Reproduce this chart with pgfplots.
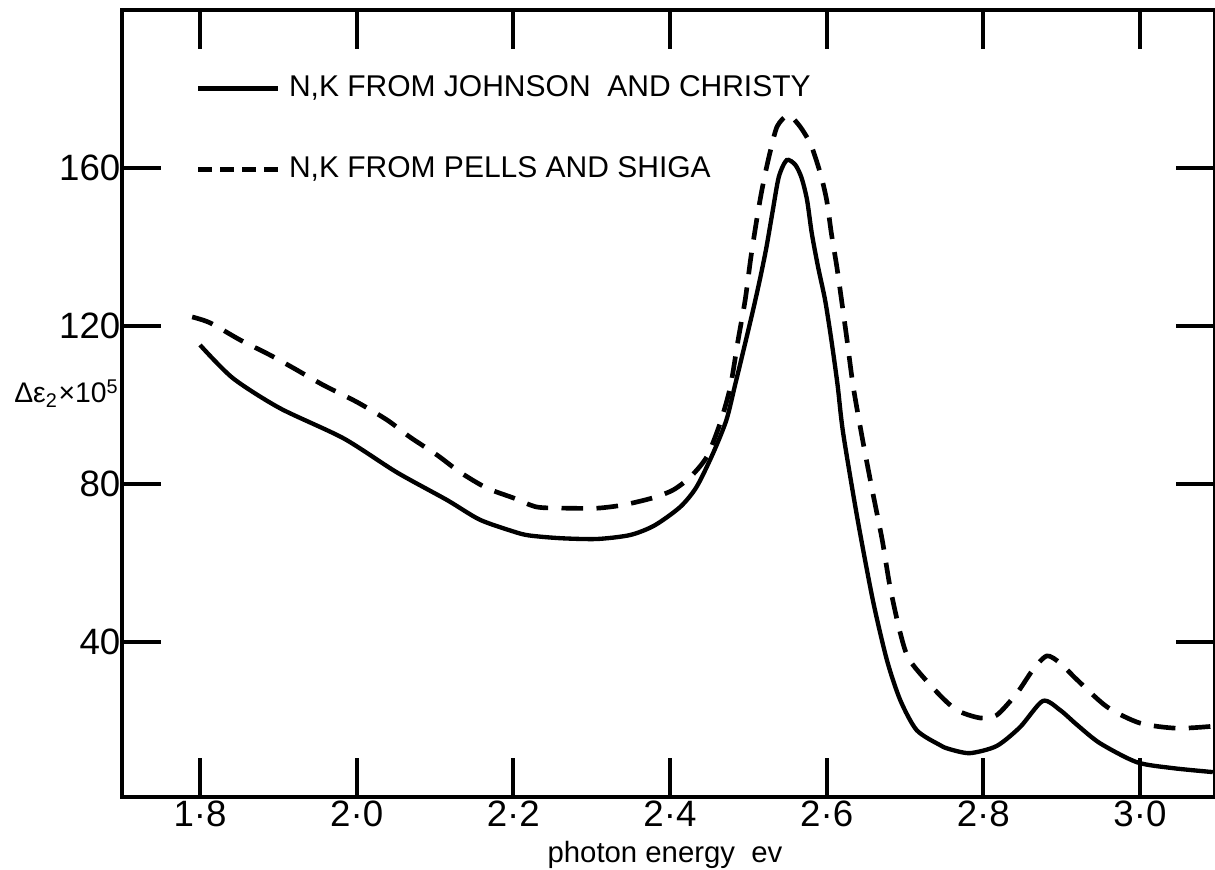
\documentclass[border=0pt]{standalone}
\usepackage{fontspec}
\setmainfont{Liberation Sans}
\usepackage{pgfplots}
\pgfplotsset{compat=1.18}
\pgfplotsset{dashlegend/.style={legend image code/.code={\draw[##1,dash pattern=on 4.3pt off 2.3pt] (0pt,0pt) -- (24.6pt,0pt);}}}
\begin{document}
\begin{tikzpicture}
\useasboundingbox (-36.6pt,-21.9pt) rectangle (327.9pt,239.1pt);
\begin{axis}[
  at={(0pt,0pt)}, anchor=south west,
  scale only axis, width=327.9pt, height=236.1pt,
  xmin=1.7004, xmax=3.0958, ymin=0.8, ymax=200,
  axis line style={line width=1.2pt},
  tick align=inside,
  major tick length=11.7pt,
  every tick/.style={line width=1.2pt, black},
  xtick={1.8,2.0,2.2,2.4,2.6,2.8,3.0},
  xticklabels={1·8,2·0,2·2,2·4,2·6,2·8,3·0},
  ytick={40,80,120,160},
  yticklabels={40,80,120,160},
  ticklabel style={font=\fontsize{11}{13}\selectfont},
  xticklabel style={inner sep=1pt},
  yticklabel style={inner sep=0.3pt},
  xlabel={photon energy\ \ ev},
  xlabel style={at={(axis description cs:0.4968,0)}, anchor=north, yshift=-13pt, inner sep=0pt, font=\fontsize{8.8}{10}\selectfont},
  ylabel={Δε\textsubscript{2}×10\textsuperscript{5}},
  every axis y label/.style={at={(axis description cs:0,0.5125)}, anchor=east, inner sep=0.6pt, font=\fontsize{8.5}{10}\selectfont},
  legend style={at={(axis description cs:0.0668,0.926)}, anchor=north west, draw=none, fill=none,
    font=\fontsize{9}{11}\selectfont, row sep=12.6pt, inner sep=0pt, cells={anchor=west}},
  legend image code/.code={\draw[#1] (0pt,0pt) -- (24pt,0pt);},
]
\addplot[black, line width=1.3pt, smooth, tension=0.45] coordinates {
(1.800,115.2) (1.842,106.8) (1.902,99.2) (1.983,91.6) (2.051,83.0) (2.115,76.0)
(2.157,71.0) (2.200,68.0) (2.220,67.0) (2.260,66.3) (2.307,66.1) (2.349,67.1)
(2.380,69.5) (2.413,74.2) (2.434,79.3) (2.455,87.8) (2.472,96.2) (2.483,105.0)
(2.494,114.0) (2.506,124.0) (2.515,132.0) (2.523,139.8) (2.531,149.0) (2.539,157.8)
(2.549,162.0) (2.560,160.8) (2.568,157.5) (2.575,151.9) (2.581,143.5) (2.589,135.0)
(2.598,126.6) (2.606,116.5) (2.614,105.0) (2.621,93.0) (2.639,71.6) (2.659,50.6)
(2.677,35.4) (2.694,25.3) (2.715,17.7) (2.745,13.9) (2.757,12.9) (2.783,11.9)
(2.817,13.7) (2.847,18.5) (2.876,25.1) (2.898,22.8) (2.920,19.0) (2.949,14.4)
(2.996,9.6) (3.042,8.1) (3.093,7.1)
};
\addlegendentry{N,K FROM JOHNSON\ \ AND CHRISTY}
\addplot[black, line width=1.4pt, dash pattern=on 6.5pt off 4pt, smooth, tension=0.45, dashlegend] coordinates {
(1.790,122.3) (1.813,120.8) (1.851,116.5) (1.889,112.7) (1.919,109.4) (1.957,105.1)
(2.000,100.8) (2.039,96.2) (2.068,91.9) (2.103,87.3) (2.132,83.0) (2.166,79.0)
(2.200,76.5) (2.230,74.2) (2.268,73.9) (2.307,73.9) (2.340,74.7) (2.378,76.5)
(2.404,78.5) (2.426,81.8) (2.447,86.9) (2.464,95.4) (2.477,104.6) (2.487,116.5)
(2.496,126.6) (2.503,137.0) (2.510,146.0) (2.516,153.0) (2.522,159.0) (2.529,165.0)
(2.537,170.6) (2.551,173.4) (2.566,170.5) (2.580,165.8) (2.592,158.6) (2.600,151.9)
(2.606,143.5) (2.613,135.0) (2.619,126.6) (2.626,116.5) (2.634,104.6) (2.646,91.1)
(2.659,77.7) (2.671,65.8) (2.681,53.9) (2.694,42.3) (2.706,35.4) (2.740,27.5)
(2.766,22.8) (2.796,20.8) (2.817,21.5) (2.843,27.1) (2.863,32.9) (2.881,36.5)
(2.898,34.7) (2.920,30.4) (2.958,23.6) (3.000,19.5) (3.047,18.2) (3.093,18.7)
};
\addlegendentry{N,K FROM PELLS AND SHIGA}
\end{axis}
\end{tikzpicture}
\end{document}
